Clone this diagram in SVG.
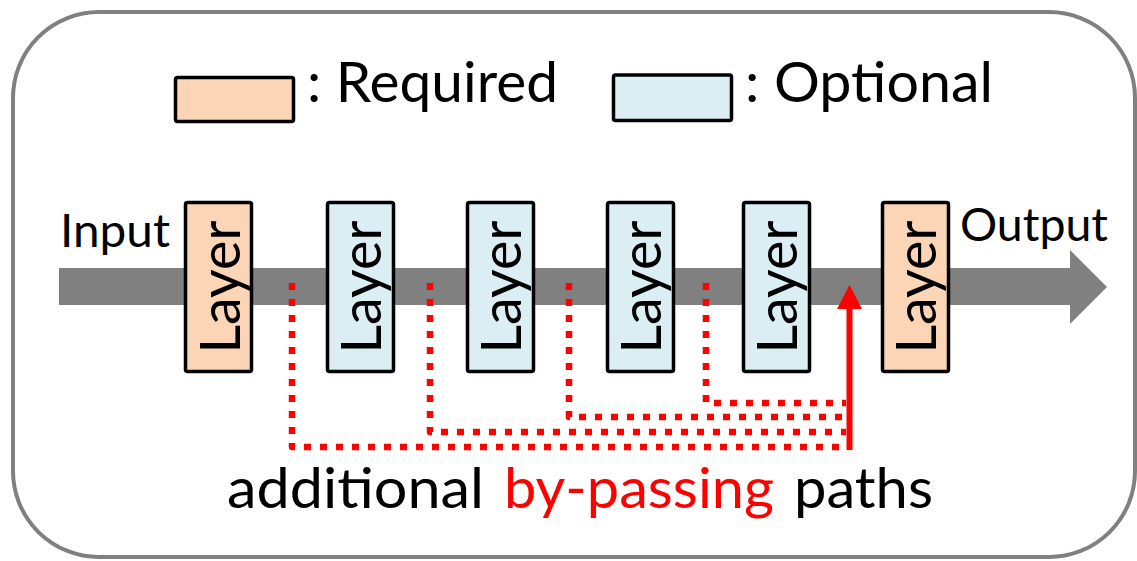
<svg xmlns="http://www.w3.org/2000/svg" width="1137" height="561" viewBox="0 0 1137 561">
  <style>
    .frame { fill: #ffffff; stroke: #808080; stroke-width: 4; }
    .req { fill: #FBD5B5; stroke: #000000; stroke-width: 3.5; }
    .opt { fill: #DAEEF3; stroke: #000000; stroke-width: 3.5; }
    .txt { font-family: Lato, "Liberation Sans", sans-serif; fill: #000000; }
    .layer-label { font-size: 56px; text-anchor: middle; }
    .bus { fill: #808080; }
    .bypass { fill: none; stroke: #FF0000; stroke-width: 6.5; stroke-dasharray: 7 9; stroke-linejoin: round; }
    .merge { fill: none; stroke: #FF0000; stroke-width: 6; }
  </style>

  <!-- outer frame -->
  <rect class="frame" x="13" y="12" width="1122" height="545" rx="86" ry="86"/>

  <!-- legend -->
  <g id="legend-required">
    <rect class="req" x="175.5" y="77.5" width="118" height="44" rx="2"/>
    <text class="txt" x="307" y="102" font-size="56" textLength="251" lengthAdjust="spacingAndGlyphs">: Required</text>
  </g>
  <g id="legend-optional">
    <rect class="opt" x="613.5" y="75" width="118" height="45.5" rx="2"/>
    <text class="txt" x="745" y="102" font-size="56" textLength="248" lengthAdjust="spacingAndGlyphs">: Optional</text>
  </g>

  <!-- main data path -->
  <g id="data-path">
    <rect class="bus" x="59" y="268" width="1012" height="37"/>
    <polygon class="bus" points="1070,250 1107,287 1070,324"/>
  </g>

  <g id="input-label">
    <text class="txt" x="60" y="247" font-size="46" textLength="110" lengthAdjust="spacingAndGlyphs">Input</text>
  </g>
  <g id="output-label">
    <text class="txt" x="960" y="241" font-size="46" textLength="148" lengthAdjust="spacingAndGlyphs">Output</text>
  </g>

  <!-- connectors: by-pass paths -->
  <g id="connectors">
    <path class="bypass" d="M292,283 V447 H846"/>
    <path class="bypass" d="M430,283 V432 H846"/>
    <path class="bypass" d="M569,283 V417 H846"/>
    <path class="bypass" d="M706,283 V403 H846"/>
    <line class="merge" x1="849.5" y1="450" x2="849.5" y2="306"/>
    <polygon fill="#FF0000" points="849.5,285 837,309 862,309"/>
  </g>

  <!-- layers -->
  <g id="layer1">
    <rect class="req" x="185.5" y="202.5" width="66" height="169" rx="2"/>
    <text class="txt layer-label" transform="translate(240,287) rotate(-90)" textLength="133" lengthAdjust="spacingAndGlyphs">Layer</text>
  </g>
  <g id="layer2">
    <rect class="opt" x="327.5" y="202.5" width="66" height="169" rx="2"/>
    <text class="txt layer-label" transform="translate(381,287) rotate(-90)" textLength="133" lengthAdjust="spacingAndGlyphs">Layer</text>
  </g>
  <g id="layer3">
    <rect class="opt" x="467.5" y="202.5" width="66" height="169" rx="2"/>
    <text class="txt layer-label" transform="translate(521,287) rotate(-90)" textLength="133" lengthAdjust="spacingAndGlyphs">Layer</text>
  </g>
  <g id="layer4">
    <rect class="opt" x="607.5" y="202.5" width="66" height="169" rx="2"/>
    <text class="txt layer-label" transform="translate(661,287) rotate(-90)" textLength="133" lengthAdjust="spacingAndGlyphs">Layer</text>
  </g>
  <g id="layer5">
    <rect class="opt" x="743.5" y="202.5" width="66" height="169" rx="2"/>
    <text class="txt layer-label" transform="translate(797,287) rotate(-90)" textLength="133" lengthAdjust="spacingAndGlyphs">Layer</text>
  </g>
  <g id="layer6">
    <rect class="req" x="882.5" y="202.5" width="66" height="169" rx="2"/>
    <text class="txt layer-label" transform="translate(936,287) rotate(-90)" textLength="133" lengthAdjust="spacingAndGlyphs">Layer</text>
  </g>

  <!-- caption -->
  <g id="caption">
    <text class="txt" x="227" y="508" font-size="56" textLength="257" lengthAdjust="spacingAndGlyphs">additional</text>
    <text class="txt" x="504" y="508" font-size="56" fill="#FF0000" style="fill:#FF0000" textLength="270" lengthAdjust="spacingAndGlyphs">by-passing</text>
    <text class="txt" x="794" y="508" font-size="56" textLength="139" lengthAdjust="spacingAndGlyphs">paths</text>
  </g>
</svg>
